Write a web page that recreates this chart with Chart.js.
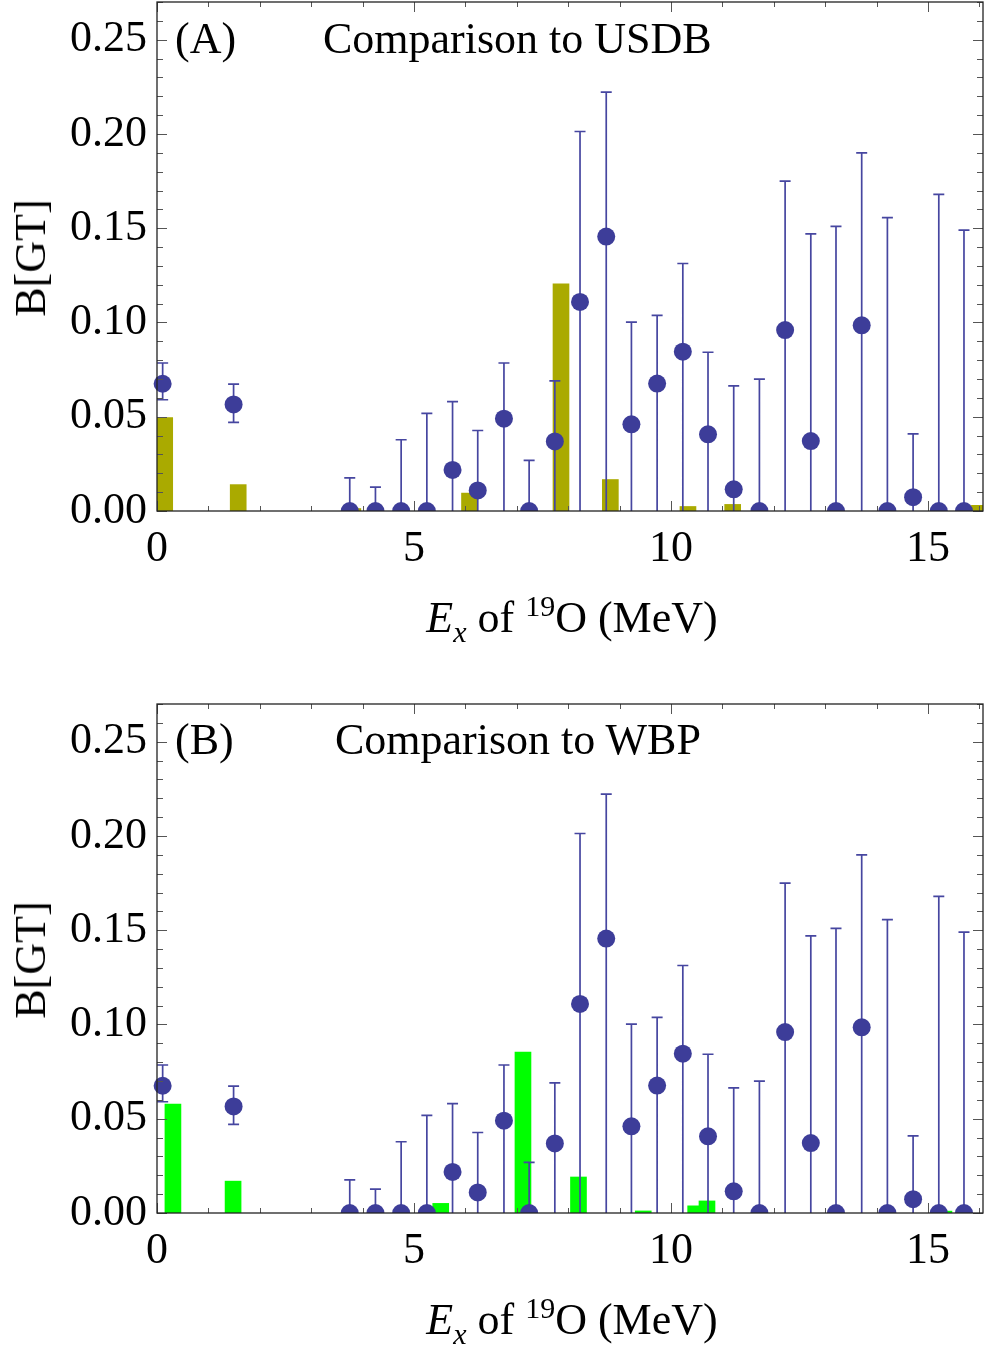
<!DOCTYPE html>
<html>
<head>
<meta charset="utf-8">
<script src="https://cdn.jsdelivr.net/npm/chart.js@4.4.1/dist/chart.umd.min.js"></script>
<style>
  body { margin: 0; background: #fff; }
  #wrap { position: relative; width: 984px; height: 1346px; font-family: "Liberation Serif", "Times New Roman", serif; color: #000; }
  canvas { position: absolute; left: 0; }
  .txt { position: absolute; font-size: 44px; line-height: 44px; white-space: nowrap; }
  .xt { width: 984px; left: 0; text-align: center; padding-left: 160px; box-sizing: border-box; }
  .xt sub, .xt sup { font-size: 30px; line-height: 0; }
  .yt { left: 31px; transform: translate(-50%, -50%) rotate(-90deg); }
</style>
</head>
<body>
<div id="wrap">
  <canvas id="chartA" width="984" height="600" style="top:0"></canvas>
  <canvas id="chartB" width="984" height="600" style="top:702px"></canvas>

  <div class="txt" style="left:175px; top:17px">(A)</div>
  <div class="txt" style="left:323px; top:17px">Comparison to USDB</div>
  <div class="txt xt" style="top:596px"><i>E</i><sub><i>x</i></sub> of <sup>19</sup>O (MeV)</div>
  <div class="txt yt" style="top:258px">B[GT]</div>

  <div class="txt" style="left:175px; top:718px">(B)</div>
  <div class="txt" style="left:335px; top:718px">Comparison to WBP</div>
  <div class="txt xt" style="top:1298px"><i>E</i><sub><i>x</i></sub> of <sup>19</sup>O (MeV)</div>
  <div class="txt yt" style="top:960px">B[GT]</div>
</div>

<script>
// measured B(GT) with error bars (same in both panels)
const energies = [0.11, 1.49, 3.75, 4.25, 4.75, 5.25, 5.75, 6.24, 6.75, 7.24, 7.74, 8.23, 8.74, 9.23, 9.73,
    10.23, 10.72, 11.22, 11.72, 12.22, 12.72, 13.21, 13.71, 14.21, 14.71, 15.21, 15.7];
const bgt = [0.0675, 0.0565, 0, 0, 0, 0, 0.0218, 0.0109, 0.049, 0, 0.0369, 0.1109, 0.1456, 0.046, 0.0676,
    0.0845, 0.0407, 0.0115, 0, 0.096, 0.0371, 0, 0.0985, 0, 0.0073, 0, 0];
const errHigh = [0.0785, 0.0673, 0.0176, 0.0127, 0.0378, 0.0518, 0.058, 0.0427, 0.0785, 0.0269, 0.069, 0.2013,
    0.2222, 0.1002, 0.1038, 0.1313, 0.0842, 0.0664, 0.07, 0.175, 0.147, 0.151, 0.19, 0.1556, 0.0409, 0.168, 0.149];
const errLow = [0.059, 0.047, 0, 0, 0, 0, 0, 0, 0, 0, 0, 0, 0, 0, 0,
    0, 0, 0, 0, 0, 0, 0, 0, 0, 0, 0, 0];

// shell model calculations
const usdbEnergies = [0.15, 1.58, 3.81, 6.08, 7.86, 8.82, 10.33, 11.2, 16.0];
const usdbBgt = [0.0495, 0.014, 0.0013, 0.0095, 0.1205, 0.0167, 0.0024, 0.0035, 0.003];
const wbpEnergies = [0.31, 1.48, 5.52, 7.12, 8.2, 9.46, 10.48, 10.7, 15.31];
const wbpBgt = [0.0578, 0.0169, 0.0051, 0.0853, 0.0191, 0.0011, 0.0038, 0.0064, 0.001];

// axis ticks
const xTicks = [0, 5, 10, 15];
const yTicks = [0, 0.05, 0.1, 0.15, 0.2, 0.25];

const pointColor = '#3d3d99';
const fontFamily = '"Liberation Serif", "Times New Roman", serif';

// frame with inward ticks, like the original plot
const frameTicks = {
    id: 'frameTicks',
    afterDraw(chart) {
        const { ctx, chartArea: a, scales: { x, y } } = chart;
        ctx.save();
        ctx.strokeStyle = '#555';
        ctx.lineWidth = 1;
        ctx.beginPath();
        for (let v = 0; v <= 16; v++) {
            const px = Math.round(x.getPixelForValue(v)) + 0.5;
            const len = v % 5 === 0 ? 10 : 5;
            ctx.moveTo(px, a.bottom); ctx.lineTo(px, a.bottom - len);
            ctx.moveTo(px, a.top); ctx.lineTo(px, a.top + len);
        }
        for (let i = 0; i <= 27; i++) {
            const py = Math.round(y.getPixelForValue(i / 100)) + 0.5;
            const len = i % 5 === 0 ? 10 : 6;
            ctx.moveTo(a.left, py); ctx.lineTo(a.left + len, py);
            ctx.moveTo(a.right, py); ctx.lineTo(a.right - len, py);
        }
        ctx.stroke();
        ctx.strokeStyle = '#222';
        ctx.lineWidth = 1.3;
        ctx.strokeRect(a.left, a.top, a.width, a.height);
        ctx.restore();
    }
};

// error bars drawn just before the points
const errorBars = {
    id: 'errorBars',
    beforeDatasetDraw(chart, args) {
        if (args.meta.type !== 'scatter') return;
        const { ctx, chartArea: a, scales: { x, y } } = chart;
        ctx.save();
        ctx.beginPath();
        ctx.rect(a.left, a.top, a.width, a.height);
        ctx.clip();
        ctx.strokeStyle = '#4646a0';
        ctx.lineWidth = 1.7;
        ctx.beginPath();
        energies.forEach((e, i) => {
            const px = x.getPixelForValue(e);
            const yHi = y.getPixelForValue(errHigh[i]);
            const yLo = y.getPixelForValue(errLow[i]);
            ctx.moveTo(px, yLo); ctx.lineTo(px, yHi);
            ctx.moveTo(px - 5.5, yHi); ctx.lineTo(px + 5.5, yHi);
            if (errLow[i] > 0) {
                ctx.moveTo(px - 5.5, yLo); ctx.lineTo(px + 5.5, yLo);
            }
        });
        ctx.stroke();
        ctx.restore();
    }
};

function makePanel(id, barX, barY, barColor) {
    let ctx = document.getElementById(id).getContext('2d');
    return new Chart(ctx, {
        type: 'bar',
        data: {
            datasets: [{
                type: 'bar',
                data: barX.map((v, i) => ({ x: v, y: barY[i] })),
                backgroundColor: barColor,
                borderWidth: 0,
                barThickness: 16,
                clip: 0,
                order: 2
            }, {
                type: 'scatter',
                data: energies.map((v, i) => ({ x: v, y: bgt[i] })),
                backgroundColor: pointColor,
                borderWidth: 0,
                pointRadius: 9,
                clip: { left: 10, top: 0, right: 0, bottom: 0 },
                order: 1
            }]
        },
        options: {
            responsive: false,
            devicePixelRatio: 1,
            animation: false,
            events: [],
            layout: { autoPadding: false, padding: { top: 2, right: 1, left: 0, bottom: 0 } },
            plugins: { legend: { display: false }, tooltip: { enabled: false } },
            scales: {
                x: {
                    type: 'linear',
                    min: 0,
                    max: 16.07,
                    offset: false,
                    grid: { display: false, drawTicks: false, offset: false },
                    border: { display: false },
                    afterBuildTicks: s => { s.ticks = xTicks.map(v => ({ value: v })); },
                    afterFit: s => { s.height = 89; s.paddingLeft = 0; s.paddingRight = 0; },
                    ticks: {
                        padding: 12,
                        maxRotation: 0,
                        color: '#000',
                        font: { family: fontFamily, size: 44 },
                        callback: v => String(v)
                    }
                },
                y: {
                    type: 'linear',
                    min: 0,
                    max: 0.27,
                    grid: { display: false, drawTicks: false },
                    border: { display: false },
                    afterBuildTicks: s => { s.ticks = yTicks.map(v => ({ value: v })); },
                    afterFit: s => { s.width = 157; s.paddingTop = 0; s.paddingBottom = 0; },
                    ticks: {
                        padding: 10,
                        color: '#000',
                        font: { family: fontFamily, size: 44 },
                        callback: v => v.toFixed(2)
                    }
                }
            }
        },
        plugins: [errorBars, frameTicks]
    });
}

makePanel('chartA', usdbEnergies, usdbBgt, '#aaaa00');
makePanel('chartB', wbpEnergies, wbpBgt, '#00ff00');
</script>
</body>
</html>
